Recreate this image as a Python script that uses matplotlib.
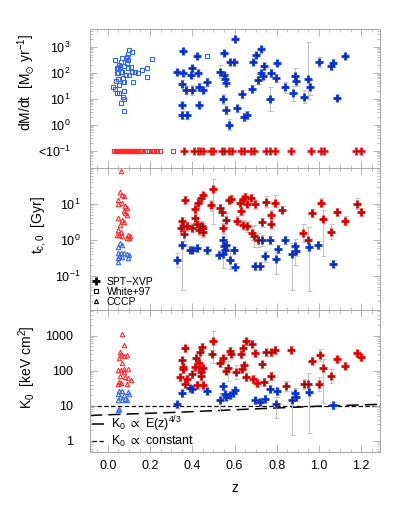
import numpy as np
import matplotlib
matplotlib.use("Agg")
import matplotlib.pyplot as plt
from matplotlib.lines import Line2D
from matplotlib.ticker import FixedLocator, NullFormatter, LogLocator, MultipleLocator, FormatStrFormatter

plt.rcParams['font.family'] = ['Liberation Sans', 'DejaVu Sans']
plt.rcParams['mathtext.fontset'] = 'dejavusans'
plt.rcParams['mathtext.default'] = 'regular'

# ---- top panel: dM/dt ----
# SPT-XVP (blue = measured)
md_z = [0.326, 0.35, 0.373, 0.35, 0.35, 0.357, 0.357, 0.368, 0.392, 0.40, 0.40, 0.42, 0.428, 0.433, 0.433,
        0.449, 0.468, 0.549, 0.53, 0.549, 0.554, 0.562, 0.546, 0.559, 0.574, 0.578, 0.598, 0.601, 0.614,
        0.636, 0.645, 0.657, 0.683, 0.688, 0.70, 0.711, 0.724, 0.727, 0.735, 0.74, 0.77, 0.775, 0.795,
        0.803, 0.84, 0.877, 0.885, 0.89, 0.927, 0.948, 0.956, 1.0, 1.055, 1.066, 1.085, 1.124]
md = [108, 2.3, 2.3, 5.6, 38, 680, 94, 21, 81, 146, 22, 445, 99, 28, 5.9, 22, 45, 556, 108, 81, 57, 41, 9.6,
      3.6, 1.0, 250, 250, 2000, 4.2, 15, 1.9, 2.3, 24.5, 250, 478, 52, 790, 99, 74, 180, 9.6, 99, 63, 240,
      27, 16, 74, 49, 12, 56, 27, 263, 178, 240, 11, 436]
md_lo = [0.08, 0.15, 0.15, 0.12, 0.15, 0.08, 0.1, 0.15, 0.1, 0.1, 0.2, 0.08, 0.1, 0.15, 0.12, 0.12, 0.15, 0.08,
         0.25, 0.1, 0.15, 0.12, 0.2, 0.15, 0.2, 0.1, 0.1, 0.06, 0.12, 0.15, 0.15, 0.15, 0.12, 0.1, 0.08, 0.15,
         0.08, 0.12, 0.12, 0.1, 0.45, 0.15, 0.15, 0.1, 0.2, 0.3, 0.3, 0.2, 0.25, 0.75, 0.3, 0.2, 0.15, 0.15,
         0.1, 0.08]
md_hi = [0.08, 0.15, 0.15, 0.12, 0.15, 0.08, 0.1, 0.15, 0.1, 0.1, 0.2, 0.08, 0.1, 0.15, 0.12, 0.12, 0.15, 0.08,
         0.25, 0.1, 0.15, 0.12, 0.2, 0.15, 0.2, 0.1, 0.1, 0.06, 0.12, 0.15, 0.15, 0.15, 0.12, 0.1, 0.08, 0.15,
         0.08, 0.12, 0.12, 0.1, 0.45, 0.15, 0.15, 0.1, 0.2, 0.28, 0.3, 0.2, 0.25, 1.43, 0.3, 0.2, 0.15, 0.15,
         0.1, 0.08]
# SPT-XVP upper limits (red, plotted at 0.1)
md_lim_z = [0.362, 0.409, 0.425, 0.436, 0.449, 0.487, 0.497, 0.539, 0.551, 0.574, 0.586, 0.633, 0.644, 0.680,
            0.691, 0.751, 0.767, 0.790, 0.866, 0.964, 1.011, 1.022, 1.176, 1.197]
# White+97
w_z = [0.035, 0.026, 0.038, 0.045, 0.05, 0.053, 0.047, 0.055, 0.055, 0.06, 0.069, 0.063, 0.066, 0.071, 0.071,
       0.078, 0.074, 0.071, 0.078, 0.074, 0.09, 0.097, 0.102, 0.113, 0.09, 0.078, 0.094, 0.085, 0.102, 0.11,
       0.113, 0.121, 0.129, 0.145, 0.161, 0.184, 0.184, 0.208, 0.05, 0.042, 0.094, 0.086, 0.063, 0.058, 0.468,
       0.035, 0.044]
w_md = [308, 28, 47, 94, 146, 195, 57, 33, 17, 7, 355, 263, 108, 60, 42, 42, 3.3, 12, 19, 9.6, 410, 306, 745,
        600, 228, 186, 146, 81, 81, 170, 108, 45, 102, 94, 126, 146, 69, 325, 94, 146, 510, 355, 108, 170, 420,
        23, 17]
w_lim_z = [0.031, 0.038, 0.044, 0.05, 0.055, 0.06, 0.065, 0.07, 0.075, 0.08, 0.085, 0.09, 0.095, 0.10, 0.105,
           0.11, 0.115, 0.12, 0.125, 0.13, 0.135, 0.14, 0.145, 0.15, 0.155, 0.16, 0.185, 0.197, 0.208, 0.22,
           0.232, 0.247, 0.31]
lim_val = 0.1

# ---- middle panel: t_cool ----
tr_z = [0.35, 0.346, 0.357, 0.365, 0.362, 0.376, 0.40, 0.413, 0.413, 0.42, 0.428, 0.436, 0.433, 0.441, 0.449,
        0.444, 0.449, 0.452, 0.487, 0.50, 0.53, 0.539, 0.546, 0.562, 0.575, 0.583, 0.613, 0.625, 0.633, 0.641,
        0.641, 0.649, 0.657, 0.657, 0.68, 0.685, 0.691, 0.696, 0.712, 0.728, 0.751, 0.775, 0.775, 0.79, 0.827,
        0.924, 0.948, 0.967, 1.008, 1.019, 1.058, 1.085, 1.124, 1.18, 1.2]
tr = [3.3, 2.1, 2.5, 13, 1.5, 2.4, 2.2, 7, 4.1, 2.8, 10.7, 2.4, 1.9, 14.7, 17, 2.5, 2.2, 1.7, 9.2, 25, 7.7, 6,
      2.1, 3.6, 12.7, 13.8, 3.4, 10.2, 6.3, 13.8, 2.6, 15.8, 2.4, 10, 14.7, 1.55, 1.3, 9.6, 1.0, 3.1, 11.4, 5,
      2.8, 10.7, 6.9, 1.55, 1.0, 5.6, 10.7, 3.7, 1.7, 5.9, 3.4, 10, 5.9]
tr_lo = [0.12, 0.12, 0.12, 0.1, 0.2, 0.12, 0.12, 0.12, 0.12, 0.15, 0.1, 0.12, 0.15, 0.1, 0.1, 0.12, 0.12, 0.15,
         0.15, 0.95, 0.12, 0.12, 0.15, 0.2, 0.1, 0.1, 0.12, 0.1, 0.12, 0.1, 0.15, 0.1, 0.15, 0.1, 0.1, 0.2, 0.3,
         0.12, 0.2, 0.12, 0.15, 0.12, 0.15, 0.12, 0.1, 0.25, 0.3, 0.12, 0.12, 1.0, 0.2, 0.12, 0.12, 0.15, 0.12]
tr_hi = [0.12, 0.12, 0.12, 0.1, 0.2, 0.12, 0.12, 0.12, 0.12, 0.15, 0.1, 0.12, 0.15, 0.1, 0.1, 0.12, 0.12, 0.15,
         0.15, 0.28, 0.12, 0.12, 0.15, 0.2, 0.1, 0.1, 0.12, 0.1, 0.12, 0.1, 0.15, 0.1, 0.15, 0.1, 0.1, 0.2, 0.3,
         0.12, 0.2, 0.12, 0.15, 0.12, 0.15, 0.22, 0.1, 0.25, 0.35, 0.12, 0.12, 0.25, 0.2, 0.12, 0.12, 0.15, 0.12]
tb_z = [0.329, 0.35, 0.39, 0.40, 0.42, 0.468, 0.528, 0.546, 0.546, 0.55, 0.554, 0.562, 0.578, 0.597, 0.602,
        0.696, 0.72, 0.732, 0.743, 0.767, 0.795, 0.806, 0.84, 0.874, 0.885, 0.893, 0.953, 0.995, 1.066]
tb = [0.28, 0.73, 0.53, 0.53, 0.6, 0.51, 0.39, 1.0, 0.42, 0.69, 0.53, 0.73, 0.28, 0.51, 0.18, 0.19, 0.19, 0.97,
      0.35, 1.0, 0.29, 0.56, 1.0, 0.41, 0.66, 0.5, 0.63, 0.73, 0.22]
tb_lo = [0.2, 1.25, 0.1, 0.1, 0.1, 0.1, 0.12, 0.1, 0.4, 0.1, 0.1, 0.1, 0.25, 0.1, 0.1, 0.1, 0.1, 0.15, 0.15,
         0.1, 0.4, 0.1, 0.1, 1.0, 0.5, 0.15, 1.2, 0.12, 0.1]
tb_hi = [0.2, 0.1, 0.1, 0.1, 0.1, 0.1, 0.12, 0.1, 0.38, 0.1, 0.1, 0.1, 0.25, 0.1, 0.1, 0.1, 0.1, 0.15, 0.15,
         0.1, 0.2, 0.1, 0.1, 0.3, 0.2, 0.15, 0.25, 0.12, 0.1]
# CCCP
cr_t_z = [0.063, 0.058, 0.069, 0.078, 0.05, 0.05, 0.066, 0.082, 0.09, 0.074, 0.082, 0.09, 0.05, 0.069, 0.074,
          0.058, 0.05, 0.063, 0.055, 0.042, 0.066, 0.094, 0.105, 0.09, 0.10]
cr_t = [81, 21, 18, 16, 13, 9.6, 10.7, 8.6, 7.7, 6.2, 5.6, 5, 4.1, 3.6, 3.1, 2.6, 1.9, 1.7, 1.4, 1.33, 1.25,
        1.33, 1.3, 1.1, 1.1]
cb_t_z = [0.058, 0.066, 0.05, 0.047, 0.063, 0.078, 0.09, 0.10, 0.05, 0.05, 0.069, 0.094, 0.055]
cb_t = [0.81, 0.73, 0.62, 0.43, 0.43, 0.43, 0.4, 0.38, 0.31, 0.25, 0.34, 0.32, 0.36]

# ---- bottom panel: K0 ----
kr_z = [0.342, 0.35, 0.357, 0.357, 0.365, 0.365, 0.373, 0.397, 0.413, 0.417, 0.421, 0.433, 0.433, 0.436, 0.444,
        0.439, 0.44, 0.449, 0.449, 0.5, 0.491, 0.53, 0.546, 0.562, 0.57, 0.578, 0.583, 0.609, 0.633, 0.636,
        0.641, 0.646, 0.654, 0.654, 0.683, 0.688, 0.696, 0.707, 0.728, 0.739, 0.751, 0.775, 0.775, 0.79, 0.843,
        0.866, 0.928, 0.948, 0.967, 1.0, 1.006, 1.019, 1.058, 1.085, 1.124, 1.18, 1.2]
kr = [65, 200, 130, 110, 435, 42, 58, 80, 130, 235, 39, 130, 162, 350, 490, 94, 70, 39, 116, 720, 300, 162,
      225, 100, 116, 365, 300, 94, 295, 112, 435, 142, 68, 700, 580, 58, 315, 44, 155, 47, 333, 71, 333, 390,
      37, 390, 42, 42, 190, 42, 280, 122, 72, 215, 138, 315, 240]
kr_lo = [0.1, 0.1, 0.1, 0.1, 0.1, 0.12, 0.1, 0.1, 0.1, 0.1, 0.12, 0.1, 0.1, 0.1, 0.1, 0.1, 0.1, 0.12, 0.1,
         0.65, 0.1, 0.1, 0.1, 0.1, 0.35, 0.1, 0.1, 0.2, 0.1, 0.1, 0.1, 0.1, 0.12, 0.1, 0.1, 0.12, 0.1, 0.12,
         0.1, 0.12, 0.1, 0.12, 0.1, 0.12, 0.15, 0.1, 0.15, 0.3, 0.1, 0.2, 0.18, 1.0, 0.2, 0.1, 0.1, 0.1, 0.1]
kr_hi = [0.1, 0.1, 0.1, 0.1, 0.1, 0.12, 0.1, 0.1, 0.1, 0.1, 0.12, 0.1, 0.1, 0.1, 0.1, 0.1, 0.1, 0.12, 0.1,
         0.28, 0.1, 0.1, 0.1, 0.1, 0.2, 0.1, 0.1, 0.2, 0.1, 0.1, 0.1, 0.1, 0.12, 0.1, 0.1, 0.12, 0.1, 0.12,
         0.1, 0.12, 0.1, 0.12, 0.1, 0.12, 0.15, 0.1, 0.15, 0.3, 0.1, 0.2, 0.18, 0.25, 0.2, 0.1, 0.1, 0.1, 0.1]
kb_z = [0.329, 0.35, 0.39, 0.40, 0.468, 0.53, 0.546, 0.554, 0.562, 0.578, 0.594, 0.602, 0.696, 0.72, 0.743,
        0.767, 0.795, 0.803, 0.874, 0.885, 0.893, 0.953, 1.066]
kb = [11, 22.5, 32, 30, 26, 14.5, 36, 21, 18, 20, 22.5, 28, 14.5, 13, 16, 30, 11, 26, 14.5, 23, 18, 25, 10.5]
kb_lo = [0.1, 0.1, 0.1, 0.1, 0.1, 0.3, 0.1, 0.1, 0.1, 0.1, 0.1, 0.1, 0.1, 0.1, 0.1, 0.12, 0.4, 0.1, 1.0,
         0.15, 0.12, 1.17, 0.1]
kb_hi = [0.1, 0.1, 0.1, 0.1, 0.1, 0.2, 0.1, 0.1, 0.1, 0.1, 0.1, 0.1, 0.1, 0.1, 0.1, 0.12, 0.2, 0.1, 0.25,
         0.15, 0.12, 0.2, 0.1]
cr_k_z = [0.066, 0.074, 0.058, 0.063, 0.09, 0.078, 0.053, 0.069, 0.05, 0.063, 0.078, 0.093, 0.074, 0.058,
          0.082, 0.097, 0.11, 0.053, 0.047, 0.063, 0.09]
cr_k = [1120, 540, 350, 295, 280, 260, 225, 167, 102, 102, 115, 115, 92, 69, 66, 60, 56, 48, 41, 45, 43]
cb_k_z = [0.053, 0.066, 0.094, 0.10, 0.047, 0.078, 0.058, 0.082, 0.069, 0.09, 0.05, 0.047, 0.053]
cb_k = [26, 27, 25, 21, 21, 20, 18, 16, 15, 15, 15, 7.7, 8.2]
# model curves
ez_z = [-0.085, 0.35, 0.6, 1.0, 1.29]
ez_k = [5.3, 6.6, 7.7, 9.7, 11.0]
const_k = 10.0

BLUE = '#1443e6'
BLUE_D = '#0a1f9a'
RED = '#ee1010'
RED_D = '#8a0000'
BLUE_L = '#3266f2'
RED_L = '#ff2a2a'
ERR = '#c4c4c4'
FRAME = '#a8a8a8'


def spt(ax, x, y, lo, hi, col, dcol):
    y = np.array(y, dtype=float)
    elo = y - y / 10 ** np.array(lo)
    ehi = y * 10 ** np.array(hi) - y
    ax.errorbar(x, y, yerr=[elo, ehi], fmt='none', ecolor=ERR, elinewidth=0.8,
                capsize=1.8, capthick=0.8, zorder=2)
    ax.plot(x, y, ls='none', marker='+', ms=6, mew=2.1, color=col, zorder=3)
    ax.plot(x, y, ls='none', marker='+', ms=5, mew=0.5, color=dcol, zorder=4)


def style(ax, ylim):
    ax.set_yscale('log')
    ax.set_xlim(-0.085, 1.29)
    ax.set_ylim(*ylim)
    ax.xaxis.set_major_locator(MultipleLocator(0.2))
    ax.xaxis.set_minor_locator(MultipleLocator(0.05))
    ax.yaxis.set_minor_locator(LogLocator(base=10, subs=np.arange(2, 10)))
    ax.yaxis.set_minor_formatter(NullFormatter())
    ax.tick_params(which='both', direction='in', top=True, right=True, color=FRAME, labelsize=9)
    ax.tick_params(which='major', length=5, width=0.6)
    ax.tick_params(which='minor', length=2.5, width=0.5)
    for s in ax.spines.values():
        s.set_color(FRAME)
        s.set_linewidth(0.7)


fig = plt.figure(figsize=(4.07, 5.09), dpi=100)
L, W = 0.221, 0.713
ax1 = fig.add_axes([L, 0.669, W, 0.274])
ax2 = fig.add_axes([L, 0.391, W, 0.278])
ax3 = fig.add_axes([L, 0.112, W, 0.279])

# top
style(ax1, (0.0205, 4800))
ax1.plot(w_z, w_md, ls='none', marker='s', ms=3.2, mfc='none', mec=BLUE_L, mew=0.8, zorder=3)
ax1.plot(w_lim_z, [lim_val] * len(w_lim_z), ls='none', marker='s', ms=3.2, mfc='none', mec=RED_L,
         mew=0.8, zorder=3)
spt(ax1, md_z, md, md_lo, md_hi, BLUE, BLUE_D)
ax1.plot(md_lim_z, [lim_val] * len(md_lim_z), ls='none', marker='+', ms=6, mew=2.1, color=RED_L, zorder=3)
ax1.plot(md_lim_z, [lim_val] * len(md_lim_z), ls='none', marker='+', ms=5, mew=0.5, color=RED_D, zorder=4)
ax1.yaxis.set_major_locator(FixedLocator([0.1, 1, 10, 100, 1000]))
ax1.set_yticklabels(['<$10^{-1}$', '$10^0$', '$10^1$', '$10^2$', '$10^3$'])
ax1.tick_params(axis='y', which='major', pad=14)
ax1.tick_params(axis='x', labelbottom=False)
ax1.set_ylabel(r'dM/dt  [M$_{\odot}$ yr$^{-1}$]', fontsize=10)
ax1.yaxis.set_label_coords(-0.183, 0.62)

# middle
style(ax2, (0.0115, 95))
ax2.plot(cr_t_z, cr_t, ls='none', marker='^', ms=3.2, mfc='none', mec=RED_L, mew=0.8, zorder=3)
ax2.plot(cb_t_z, cb_t, ls='none', marker='^', ms=3.2, mfc='none', mec=BLUE_L, mew=0.8, zorder=3)
spt(ax2, tr_z, tr, tr_lo, tr_hi, RED, RED_D)
spt(ax2, tb_z, tb, tb_lo, tb_hi, BLUE, BLUE_D)
ax2.yaxis.set_major_locator(FixedLocator([0.1, 1, 10]))
ax2.set_yticklabels(['$10^{-1}$', '$10^0$', '$10^1$'])
ax2.tick_params(axis='y', which='major', pad=7)
ax2.tick_params(axis='x', labelbottom=False)
ax2.set_ylabel(r't$_{c,0}$  [Gyr]', fontsize=10)
ax2.yaxis.set_label_coords(-0.145, 0.6)
h = [Line2D([], [], ls='none', marker='+', ms=6, mew=2, color='k'),
     Line2D([], [], ls='none', marker='s', ms=3, mfc='none', mec='k', mew=0.8),
     Line2D([], [], ls='none', marker='^', ms=3, mfc='none', mec='k', mew=0.8)]
ax2.legend(h, ['SPT−XVP', 'White+97', 'CCCP'], loc='lower left', frameon=False, fontsize=7.5,
           handlelength=0.6, handletextpad=0.7, labelspacing=0.0, borderpad=0.2, borderaxespad=0.1)

# bottom
style(ax3, (0.48, 5400))
ax3.axhline(const_k, color='k', lw=0.9, ls=(0, (3.5, 2)), zorder=1)
ax3.plot(ez_z, ez_k, color='k', lw=1.1, ls=(0, (8, 4)), zorder=1)
ax3.plot(cr_k_z, cr_k, ls='none', marker='^', ms=3.2, mfc='none', mec=RED_L, mew=0.8, zorder=3)
ax3.plot(cb_k_z, cb_k, ls='none', marker='^', ms=3.2, mfc='none', mec=BLUE_L, mew=0.8, zorder=3)
spt(ax3, kr_z, kr, kr_lo, kr_hi, RED, RED_D)
spt(ax3, kb_z, kb, kb_lo, kb_hi, BLUE, BLUE_D)
ax3.yaxis.set_major_locator(FixedLocator([1, 10, 100, 1000]))
ax3.set_yticklabels(['1', '10', '100', '1000'])
ax3.tick_params(axis='y', which='major', pad=12)
ax3.tick_params(axis='x', which='major', pad=6)
ax3.xaxis.set_major_formatter(FormatStrFormatter('%.1f'))
ax3.set_ylabel(r'K$_0$  [keV cm$^2$]', fontsize=10)
ax3.yaxis.set_label_coords(-0.179, 0.595)
ax3.set_xlabel('z', fontsize=10, labelpad=6)
h2 = [Line2D([], [], color='k', lw=1.1, ls=(0, (8, 4))),
      Line2D([], [], color='k', lw=0.9, ls=(0, (3.5, 2)))]
ax3.legend(h2, [r'K$_0$ $\propto$ E(z)$^{4/3}$', r'K$_0$ $\propto$ constant'], loc='lower left',
           frameon=False, fontsize=9, handlelength=0.9, handletextpad=0.6, labelspacing=0.05,
           borderpad=0.1, borderaxespad=0.1)

fig.savefig('out.png', dpi=100)
